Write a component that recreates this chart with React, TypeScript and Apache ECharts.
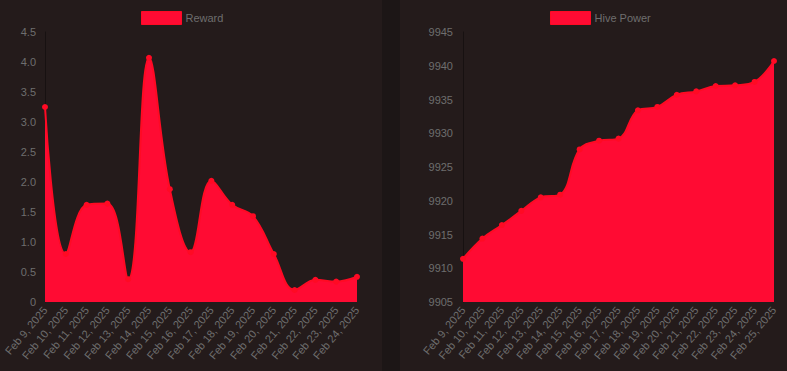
import React, { useEffect, useRef } from "react";
import * as echarts from "echarts";

const rewardDates = [
  "Feb 9, 2025", "Feb 10, 2025", "Feb 11, 2025", "Feb 12, 2025", "Feb 13, 2025",
  "Feb 14, 2025", "Feb 15, 2025", "Feb 16, 2025", "Feb 17, 2025", "Feb 18, 2025",
  "Feb 19, 2025", "Feb 20, 2025", "Feb 21, 2025", "Feb 22, 2025", "Feb 23, 2025",
  "Feb 24, 2025",
];
const rewardValues = [3.25, 0.8, 1.62, 1.64, 0.38, 4.07, 1.88, 0.83, 2.02, 1.62, 1.43, 0.8, 0.2, 0.37, 0.34, 0.42];

const hpDates = [
  "Feb 9, 2025", "Feb 10, 2025", "Feb 11, 2025", "Feb 12, 2025", "Feb 13, 2025",
  "Feb 14, 2025", "Feb 15, 2025", "Feb 16, 2025", "Feb 17, 2025", "Feb 18, 2025",
  "Feb 19, 2025", "Feb 20, 2025", "Feb 21, 2025", "Feb 22, 2025", "Feb 23, 2025",
  "Feb 24, 2025", "Feb 25, 2025",
];
const hpValues = [
  9911.4, 9914.4, 9916.4, 9918.5, 9920.5, 9920.9, 9927.6, 9928.9, 9929.2, 9933.4,
  9933.9, 9935.7, 9936.2, 9937.0, 9937.1, 9937.6, 9940.7,
];

const FONT = "'Liberation Sans', Arial, Helvetica, sans-serif";
const LABEL = "#6e6e6e";
const LINE = "#ff0a24";
const FILL = "#ff0b33";

export default function App() {
  const ref = useRef<HTMLDivElement>(null);
  useEffect(() => {
    if (!ref.current) return;
    const chart = echarts.init(ref.current, undefined, { renderer: "svg" });
    const axisLabelX = {
      interval: 0,
      rotate: 50,
      color: LABEL,
      fontSize: 11,
      fontFamily: FONT,
      margin: 6,
    };
    const yCommon = {
      type: "value" as const,
      axisLine: { show: true, lineStyle: { color: "#171111", width: 1 } },
      axisTick: { show: false },
      splitLine: { show: false },
    };
    const seriesCommon = {
      type: "line" as const,
      smooth: 0.4,
      symbol: "circle",
      symbolSize: 6,
      showSymbol: true,
      lineStyle: { color: LINE, width: 2 },
      itemStyle: { color: LINE },
      areaStyle: { color: FILL, opacity: 1 },
    };
    const legendCommon = {
      top: 11,
      padding: 0,
      itemWidth: 40,
      itemHeight: 13,
      icon: "rect",
      itemGap: 5,
      textStyle: { color: LABEL, fontSize: 11, fontFamily: FONT, padding: [0, 0, 0, -1] },
      itemStyle: { color: FILL, borderColor: LINE, borderWidth: 1 },
    };
    chart.setOption({
      animation: false,
      backgroundColor: "transparent",
      legend: [
        { ...legendCommon, data: ["Reward"], left: 141 },
        { ...legendCommon, data: ["Hive Power"], left: 550 },
      ],
      grid: [
        { left: 45, top: 32, width: 312, height: 270, containLabel: false, outerBoundsMode: "none" },
        { left: 463, top: 32, width: 311, height: 270, containLabel: false, outerBoundsMode: "none" },
      ],
      xAxis: [
        {
          type: "category",
          gridIndex: 0,
          data: rewardDates,
          boundaryGap: false,
          axisLine: { show: false },
          axisTick: { show: false },
          axisLabel: axisLabelX,
        },
        {
          type: "category",
          gridIndex: 1,
          data: hpDates,
          boundaryGap: false,
          axisLine: { show: false },
          axisTick: { show: false },
          axisLabel: axisLabelX,
        },
      ],
      yAxis: [
        {
          ...yCommon,
          gridIndex: 0,
          min: 0,
          max: 4.5,
          interval: 0.5,
          axisLabel: {
            color: LABEL,
            fontSize: 11,
            fontFamily: FONT,
            margin: 9,
            formatter: (v: number) => (v === 0 ? "0" : v.toFixed(1)),
          },
        },
        {
          ...yCommon,
          gridIndex: 1,
          min: 9905,
          max: 9945,
          interval: 5,
          axisLabel: {
            color: LABEL,
            fontSize: 11,
            fontFamily: FONT,
            margin: 10,
            formatter: (v: number) => String(v),
          },
        },
      ],
      series: [
        { ...seriesCommon, name: "Reward", xAxisIndex: 0, yAxisIndex: 0, data: rewardValues },
        { ...seriesCommon, name: "Hive Power", xAxisIndex: 1, yAxisIndex: 1, data: hpValues },
      ],
    });
    return () => chart.dispose();
  }, []);

  return (
    <div style={{ position: "fixed", left: 0, top: 0, width: 787, height: 371, background: "#1c1616" }}>
      <div style={{ position: "absolute", left: 0, top: 0, width: 382, height: 371, background: "#241b1b" }} />
      <div style={{ position: "absolute", left: 400, top: 0, width: 387, height: 371, background: "#241b1b" }} />
      <div ref={ref} style={{ position: "absolute", left: 0, top: 0, width: 787, height: 371 }} />
    </div>
  );
}
